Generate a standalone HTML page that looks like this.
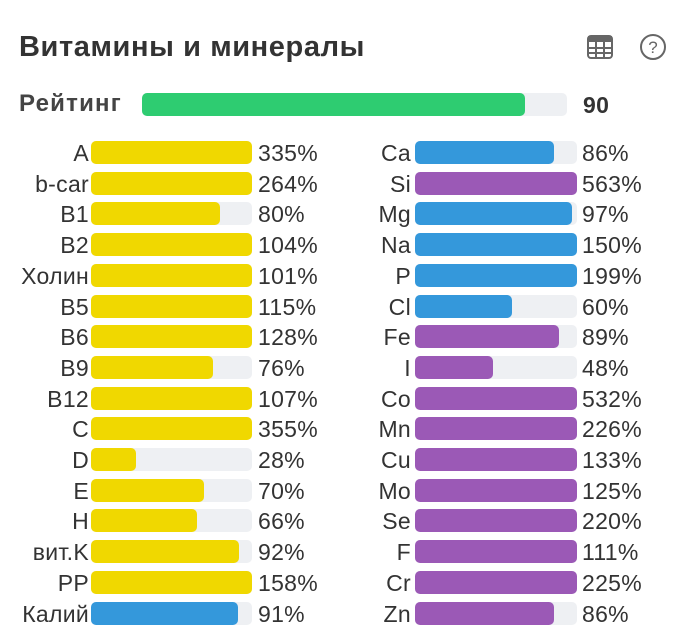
<!DOCTYPE html>
<html><head><meta charset="utf-8"><style>
body{margin:0;background:#fff;font-family:"Liberation Sans","DejaVu Sans",sans-serif;}
#c{position:relative;width:680px;height:628px;overflow:hidden;}
.t{position:absolute;color:#333;font-size:23px;line-height:24px;white-space:nowrap;letter-spacing:0.3px;}
.track{position:absolute;background:#eef0f3;border-radius:5px;height:23px;}
.fill{position:absolute;left:0;top:0;height:23px;border-radius:5px;}
</style></head><body>
<div id="c">
<div class="t" style="left:19px;top:32px;font-size:29px;line-height:30px;font-weight:bold;color:#333;letter-spacing:0.6px">Витамины и минералы</div>
<svg style="position:absolute;left:586px;top:33px" width="28" height="28" viewBox="0 0 28 28"><rect x="2" y="3" width="24" height="22" rx="3" fill="none" stroke="#666" stroke-width="2"/><rect x="2" y="3" width="24" height="6" fill="#666"/><line x1="2" y1="15" x2="26" y2="15" stroke="#666" stroke-width="2"/><line x1="2" y1="20" x2="26" y2="20" stroke="#666" stroke-width="2"/><line x1="10" y1="9" x2="10" y2="25" stroke="#666" stroke-width="2"/><line x1="18" y1="9" x2="18" y2="25" stroke="#666" stroke-width="2"/></svg>
<svg style="position:absolute;left:639px;top:33px" width="28" height="28" viewBox="0 0 28 28"><circle cx="14" cy="14" r="12" fill="none" stroke="#666" stroke-width="2"/><text x="14" y="20" text-anchor="middle" font-size="17" fill="#666" font-family="Liberation Sans">?</text></svg>
<div class="t" style="left:19px;top:92px;font-weight:bold;font-size:24px;color:#444;letter-spacing:1.2px">Рейтинг</div>
<div class="track" style="left:142px;top:93px;width:425px"><div class="fill" id="rf" style="background:#2ecc71"></div></div>
<div class="t" id="rv" style="left:583px;top:93px;font-weight:bold;font-size:23px"></div>
</div>
<script>
const rating = 90;
const leftLabels = ["A","b-car","B1","B2","Холин","B5","B6","B9","B12","C","D","E","H","вит.K","PP","Калий"];
const leftValues = [335,264,80,104,101,115,128,76,107,355,28,70,66,92,158,91];
const leftKinds = ["v","v","v","v","v","v","v","v","v","v","v","v","v","v","v","m"];
const rightLabels = ["Ca","Si","Mg","Na","P","Cl","Fe","I","Co","Mn","Cu","Mo","Se","F","Cr","Zn"];
const rightValues = [86,563,97,150,199,60,89,48,532,226,133,125,220,111,225,86];
const rightKinds = ["m","t","m","m","m","m","t","t","t","t","t","t","t","t","t","t"];
const colors={v:"#f0d800",m:"#3498db",t:"#9b59b6"};
const c=document.getElementById('c');
document.getElementById('rf').style.width=(425*Math.min(rating,100)/100)+'px';
document.getElementById('rv').textContent=rating;
function rowY(i){return 141+i*30.7;}
function draw(labels,vals,kinds,labelRight,trackX,trackW,pctX,side){
 labels.forEach((lab,i)=>{
  const y=rowY(i);
  const l=document.createElement('div');l.className='t';
  
  
  l.style.right=(680-labelRight)+'px';l.style.top=(y)+'px';l.textContent=lab;c.appendChild(l);
  const tr=document.createElement('div');tr.className='track';
  
  
  tr.style.left=trackX+'px';tr.style.top=y+'px';tr.style.width=trackW+'px';
  const f=document.createElement('div');f.className='fill';
  
  
  f.style.width=(trackW*Math.min(vals[i],100)/100)+'px';f.style.background=colors[kinds[i]];
  tr.appendChild(f);c.appendChild(tr);
  const p=document.createElement('div');p.className='t';
  
  
  p.style.left=pctX+'px';p.style.top=(y)+'px';p.textContent=vals[i]+'%';c.appendChild(p);
 });
}
draw(leftLabels,leftValues,leftKinds,89,91,161,258,'left');
draw(rightLabels,rightValues,rightKinds,411,415,162,582,'right');
</script>
</body></html>
